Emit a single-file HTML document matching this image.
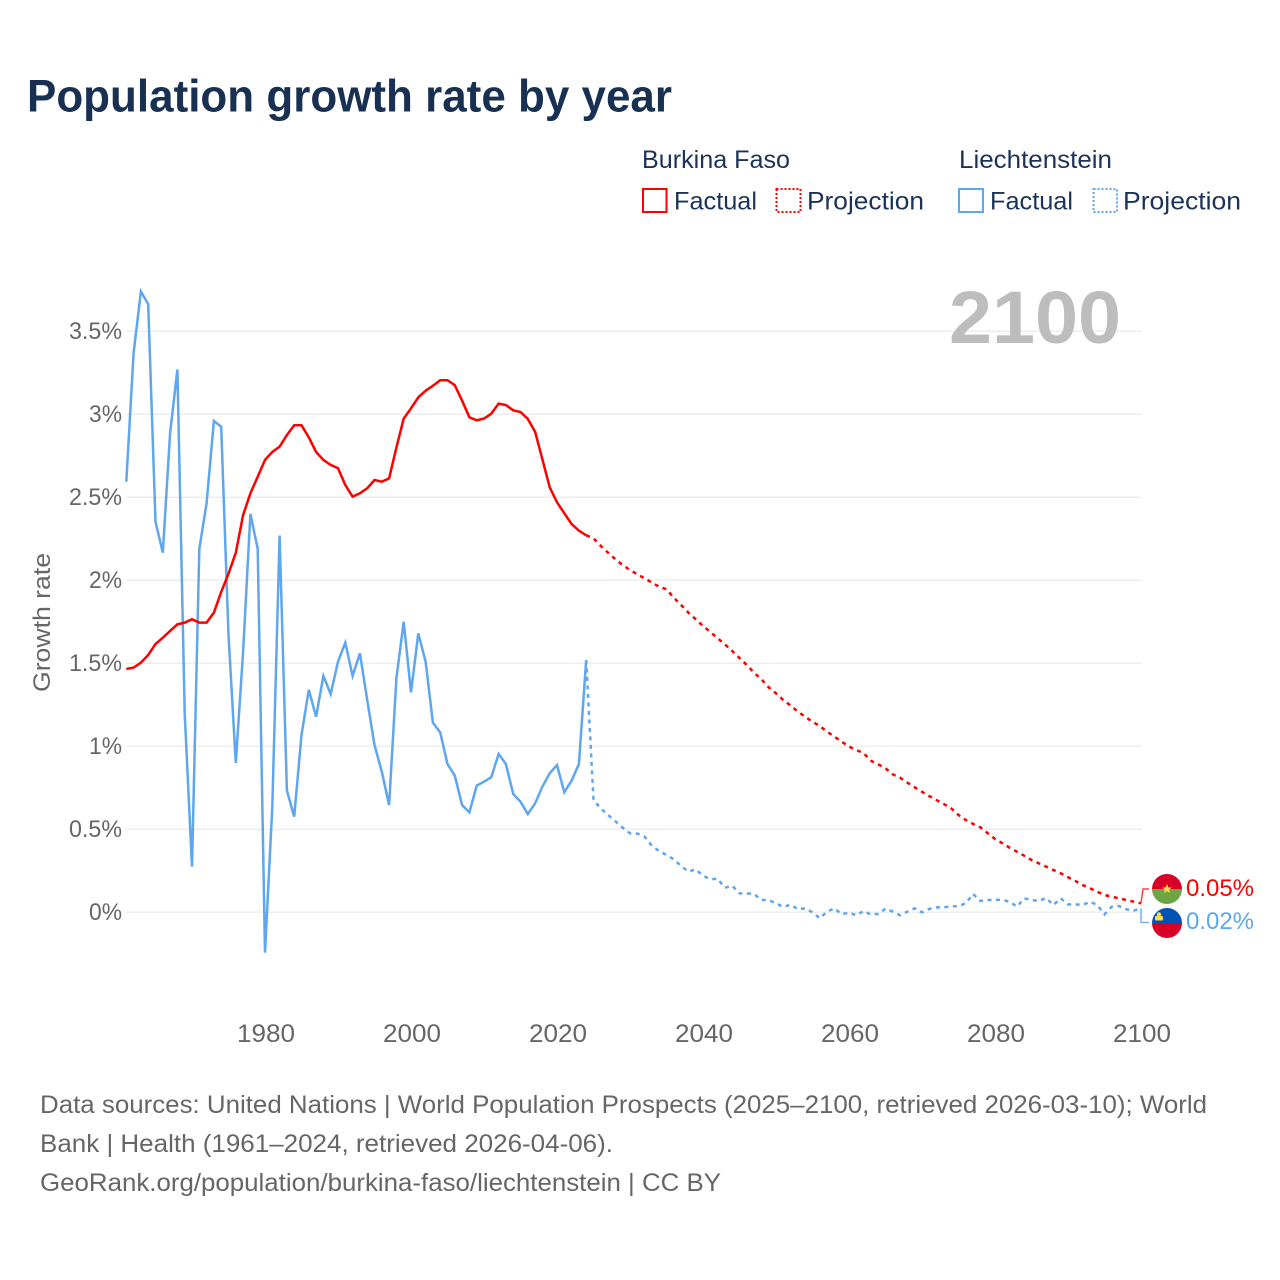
<!DOCTYPE html>
<html lang="en">
<head>
<meta charset="utf-8">
<title>Population growth rate by year</title>
<style>
html,body{margin:0;padding:0;background:#fff;}
svg{display:block;font-family:"Liberation Sans",sans-serif;}
</style>
</head>
<body>
<svg id="chart" width="1280" height="1280" viewBox="0 0 1280 1280" xmlns="http://www.w3.org/2000/svg">
  <rect x="0" y="0" width="1280" height="1280" fill="#fff"/>
  <text x="27" y="111.5" font-size="45" font-weight="700" fill="#183153" textLength="645" lengthAdjust="spacingAndGlyphs">Population growth rate by year</text>

  <g font-size="25" fill="#1b3358">
    <text x="642" y="168" textLength="148" lengthAdjust="spacingAndGlyphs">Burkina Faso</text>
    <text x="959" y="168" textLength="153" lengthAdjust="spacingAndGlyphs">Liechtenstein</text>
    <g>
      <rect x="643" y="189" width="23.5" height="23" fill="none" stroke="#ff0000" stroke-width="2"/>
      <text x="674" y="209.5" textLength="83" lengthAdjust="spacingAndGlyphs">Factual</text>
    </g>
    <g>
      <rect x="776.5" y="189" width="24" height="23" fill="none" stroke="#ff0000" stroke-width="2" stroke-dasharray="2 2"/>
      <text x="807" y="209.5" textLength="117" lengthAdjust="spacingAndGlyphs">Projection</text>
    </g>
    <g>
      <rect x="959" y="189" width="24" height="23" fill="none" stroke="#5ea6ee" stroke-width="2"/>
      <text x="990" y="209.5" textLength="83" lengthAdjust="spacingAndGlyphs">Factual</text>
    </g>
    <g>
      <rect x="1093.5" y="189" width="23.5" height="23" fill="none" stroke="#5ea6ee" stroke-width="2" stroke-dasharray="2 2"/>
      <text x="1123" y="209.5" textLength="118" lengthAdjust="spacingAndGlyphs">Projection</text>
    </g>
  </g>

  <g id="grid"></g>
  <text x="949" y="343" font-size="74" font-weight="700" fill="#bdbdbd" textLength="172" lengthAdjust="spacingAndGlyphs">2100</text>
  <g id="yLabels" font-size="24" fill="#666" text-anchor="end"></g>
  <g id="xLabels" font-size="25" fill="#666" text-anchor="middle"></g>
  <text transform="translate(50,622.5) rotate(-90)" font-size="24" fill="#666" text-anchor="middle" textLength="139" lengthAdjust="spacingAndGlyphs">Growth rate</text>
  <g id="series"></g>

  <polyline id="connectorBurkina" fill="none" stroke="#ff0000" stroke-opacity="0.75" stroke-width="1.5"/>
  <polyline id="connectorLiechtenstein" fill="none" stroke="#5ea6ee" stroke-opacity="0.85" stroke-width="1.5"/>

  <defs>
    <clipPath id="flagClipTop"><circle cx="1167" cy="889" r="15"/></clipPath>
    <clipPath id="flagClipBottom"><circle cx="1167" cy="923" r="15"/></clipPath>
  </defs>
  <g clip-path="url(#flagClipTop)">
    <rect x="1150" y="872" width="34" height="17" fill="#d80027"/>
    <rect x="1150" y="889" width="34" height="17" fill="#6da544"/>
    <polygon points="1167,884 1168.3,887.4 1171.8,887.5 1169.1,889.7 1170,893 1167,891.1 1164,893 1164.9,889.7 1162.2,887.5 1165.7,887.4" fill="#ffda44"/>
  </g>
  <g clip-path="url(#flagClipBottom)">
    <rect x="1150" y="906" width="34" height="17" fill="#0052b4"/>
    <rect x="1150" y="923" width="34" height="17" fill="#d80027"/>
    <rect x="1155" y="916" width="8" height="4.5" rx="1" fill="#ffda44"/>
    <circle cx="1159" cy="914.5" r="2.2" fill="#ffda44"/>
  </g>
  <text x="1186" y="896" font-size="24" fill="#ff0000" textLength="68" lengthAdjust="spacingAndGlyphs">0.05%</text>
  <text x="1186" y="929" font-size="24" fill="#5ea6ee" textLength="68" lengthAdjust="spacingAndGlyphs">0.02%</text>

  <g font-size="25" fill="#666">
    <text x="40" y="1113" textLength="1167" lengthAdjust="spacingAndGlyphs">Data sources: United Nations | World Population Prospects (2025–2100, retrieved 2026-03-10); World</text>
    <text x="40" y="1152" textLength="573" lengthAdjust="spacingAndGlyphs">Bank | Health (1961–2024, retrieved 2026-04-06).</text>
    <text x="40" y="1191" textLength="681" lengthAdjust="spacingAndGlyphs">GeoRank.org/population/burkina-faso/liechtenstein | CC BY</text>
  </g>
</svg>
<script>
const yTicks = [0, 0.5, 1, 1.5, 2, 2.5, 3, 3.5];
const yTickLabels = ["0%", "0.5%", "1%", "1.5%", "2%", "2.5%", "3%", "3.5%"];
const xTicks = [1980, 2000, 2020, 2040, 2060, 2080, 2100];
const factualStartYear = 1961;
const projectionStartYear = 2024;
const burkinaFactual = [1.466,1.474,1.504,1.55,1.616,1.654,1.695,1.735,1.745,1.765,1.745,1.745,1.805,1.93,2.04,2.166,2.393,2.524,2.624,2.725,2.773,2.805,2.875,2.934,2.934,2.861,2.773,2.725,2.695,2.675,2.574,2.504,2.524,2.554,2.604,2.594,2.614,2.80,2.974,3.036,3.102,3.142,3.172,3.205,3.205,3.175,3.082,2.982,2.964,2.974,3.004,3.064,3.056,3.024,3.014,2.972,2.895,2.729,2.56,2.47,2.404,2.339,2.299,2.271];
const burkinaProjection = [2.271,2.253,2.207,2.166,2.127,2.092,2.062,2.036,2.012,1.986,1.961,1.946,1.895,1.851,1.805,1.765,1.725,1.689,1.651,1.614,1.574,1.532,1.49,1.443,1.404,1.355,1.319,1.279,1.245,1.209,1.178,1.148,1.122,1.088,1.058,1.028,0.998,0.978,0.958,0.913,0.891,0.867,0.831,0.811,0.781,0.753,0.726,0.70,0.676,0.652,0.626,0.586,0.556,0.532,0.512,0.476,0.442,0.416,0.389,0.365,0.341,0.315,0.295,0.275,0.255,0.235,0.211,0.189,0.164,0.145,0.124,0.104,0.094,0.084,0.074,0.064,0.054];
const liechtensteinFactual = [2.594,3.37,3.74,3.664,2.353,2.166,2.887,3.27,1.2,0.275,2.188,2.465,2.96,2.925,1.67,0.9,1.57,2.40,2.19,-0.243,0.636,2.27,0.733,0.576,1.068,1.34,1.178,1.424,1.315,1.51,1.624,1.424,1.56,1.279,1.008,0.847,0.646,1.41,1.75,1.325,1.68,1.51,1.142,1.084,0.893,0.823,0.646,0.602,0.763,0.787,0.813,0.954,0.893,0.713,0.666,0.592,0.656,0.757,0.837,0.887,0.723,0.793,0.893,1.52];
const liechtensteinProjection = [1.52,0.676,0.626,0.586,0.548,0.51,0.476,0.474,0.456,0.40,0.369,0.345,0.319,0.279,0.245,0.259,0.22,0.199,0.202,0.148,0.16,0.114,0.114,0.11,0.074,0.074,0.054,0.032,0.046,0.018,0.024,0,-0.036,0.004,0.024,-0.012,-0.002,-0.018,0.008,-0.014,-0.01,0.022,0.004,-0.018,0.004,0.024,0,0.02,0.03,0.03,0.036,0.038,0.054,0.11,0.068,0.074,0.076,0.074,0.064,0.034,0.084,0.074,0.068,0.086,0.044,0.084,0.048,0.048,0.044,0.064,0.044,-0.012,0.034,0.038,0.018,0.01,0.024];

const SVG_NS = "http://www.w3.org/2000/svg";
function xScale(year) { return 265 + (year - 1980) * 7.3; }
function yScale(value) { return 912.3 - 166 * value; }
function pointsFor(values, startYear) {
  return values.map(function (v, i) {
    return xScale(startYear + i).toFixed(2) + "," + yScale(v).toFixed(2);
  }).join(" ");
}

const gridGroup = document.getElementById("grid");
const yLabelGroup = document.getElementById("yLabels");
yTicks.forEach(function (tick, i) {
  const line = document.createElementNS(SVG_NS, "line");
  
  
  line.setAttribute("x1", xScale(1961));
  line.setAttribute("x2", xScale(2100) + 1);
  line.setAttribute("y1", yScale(tick));
  line.setAttribute("y2", yScale(tick));
  line.setAttribute("stroke", "#eeeeee");
  line.setAttribute("stroke-width", "1.5");
  gridGroup.appendChild(line);

  const label = document.createElementNS(SVG_NS, "text");
  
  
  label.setAttribute("x", 122);
  label.setAttribute("y", yScale(tick) + 7.5);
  label.setAttribute("textLength", yTickLabels[i].length > 2 ? 53 : 33);
  label.setAttribute("lengthAdjust", "spacingAndGlyphs");
  label.textContent = yTickLabels[i];
  yLabelGroup.appendChild(label);
});

const xLabelGroup = document.getElementById("xLabels");
xTicks.forEach(function (tick) {
  const label = document.createElementNS(SVG_NS, "text");
  
  
  label.setAttribute("x", xScale(tick) + 1);
  label.setAttribute("y", 1042);
  label.setAttribute("textLength", 58);
  label.setAttribute("lengthAdjust", "spacingAndGlyphs");
  label.textContent = String(tick);
  xLabelGroup.appendChild(label);
});

const seriesGroup = document.getElementById("series");

const liechtensteinFactualLine = document.createElementNS(SVG_NS, "polyline");


liechtensteinFactualLine.setAttribute("points", pointsFor(liechtensteinFactual, factualStartYear));
liechtensteinFactualLine.setAttribute("fill", "none");
liechtensteinFactualLine.setAttribute("stroke", "#5ea6ee");
liechtensteinFactualLine.setAttribute("stroke-width", "2.5");
seriesGroup.appendChild(liechtensteinFactualLine);

const liechtensteinProjectionLine = document.createElementNS(SVG_NS, "polyline");


liechtensteinProjectionLine.setAttribute("points", pointsFor(liechtensteinProjection, projectionStartYear));
liechtensteinProjectionLine.setAttribute("fill", "none");
liechtensteinProjectionLine.setAttribute("stroke", "#5ea6ee");
liechtensteinProjectionLine.setAttribute("stroke-width", "2.5");
liechtensteinProjectionLine.setAttribute("stroke-dasharray", "4 4.5");
seriesGroup.appendChild(liechtensteinProjectionLine);

const burkinaFactualLine = document.createElementNS(SVG_NS, "polyline");


burkinaFactualLine.setAttribute("points", pointsFor(burkinaFactual, factualStartYear));
burkinaFactualLine.setAttribute("fill", "none");
burkinaFactualLine.setAttribute("stroke", "#ff0000");
burkinaFactualLine.setAttribute("stroke-width", "2.5");
seriesGroup.appendChild(burkinaFactualLine);

const burkinaProjectionLine = document.createElementNS(SVG_NS, "polyline");


burkinaProjectionLine.setAttribute("points", pointsFor(burkinaProjection, projectionStartYear));
burkinaProjectionLine.setAttribute("fill", "none");
burkinaProjectionLine.setAttribute("stroke", "#ff0000");
burkinaProjectionLine.setAttribute("stroke-width", "2.5");
burkinaProjectionLine.setAttribute("stroke-dasharray", "4 4.5");
seriesGroup.appendChild(burkinaProjectionLine);

const lastBurkinaValue = burkinaProjection[burkinaProjection.length - 1];
const lastLiechtensteinValue = liechtensteinProjection[liechtensteinProjection.length - 1];
document.getElementById("connectorBurkina").setAttribute("points",
  xScale(2100) + "," + yScale(lastBurkinaValue) + " 1143,889 1149,889");
document.getElementById("connectorLiechtenstein").setAttribute("points",
  xScale(2100) + "," + yScale(lastLiechtensteinValue) + " " + xScale(2100) + ",922.5 1149,922.5");
</script>
</body>
</html>
